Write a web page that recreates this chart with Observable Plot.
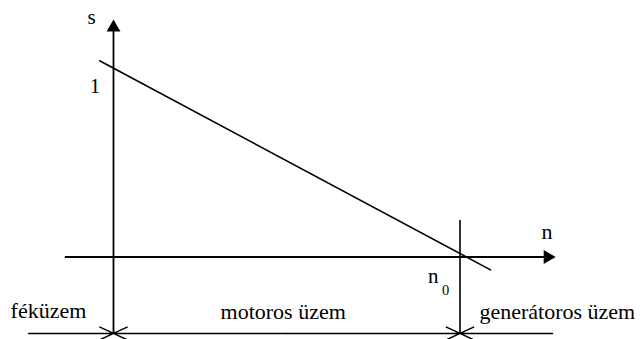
<!DOCTYPE html>
<html>
<head>
<meta charset="utf-8">
<script src="https://cdn.jsdelivr.net/npm/d3@7"></script>
<script src="https://cdn.jsdelivr.net/npm/@observablehq/plot@0.6"></script>
</head>
<body style="margin:0;background:#fff">
<div id="chart"></div>
<script>
// ---- data (n: speed, relative to n0; s: slip) ----
const slipN = [-0.04, 1.088];          // n values of the slip line endpoints
const slipS = [1.04, -0.068];          // s values of the slip line endpoints
const regionNames = ["féküzem", "motoros üzem", "generátoros üzem"];
const regionBounds = [-0.245, 0, 1, 1.267];   // dimension line: start, s-axis, n0, end
const axisNames = ["s", "n"];
const tickLabels = ["1", "n", "0"];    // "1" on s axis, n0 = "n" + subscript "0"

// ---- geometry of the diagram (in n / s units) ----
const sAxisRange = [-0.405, 1.216];
const nAxisRange = [-0.139, 1.253];
const dimS = -0.405;
const n0Top = 0.193;

const slipLine = slipN.map((n, i) => ({n, s: slipS[i]}));

const dimArrows = [
  {x1: regionBounds[0], x2: regionBounds[1]},
  {x1: (regionBounds[1] + regionBounds[2]) / 2, x2: regionBounds[1]},
  {x1: (regionBounds[1] + regionBounds[2]) / 2, x2: regionBounds[2]},
  {x1: regionBounds[3], x2: regionBounds[2]}
];

const regionText = [
  {n: -0.297, s: -0.321, t: regionNames[0]},
  {n: 0.309, s: -0.329, t: regionNames[1]},
  {n: 1.056, s: -0.331, t: regionNames[2]}
];

const font = "Times New Roman";

const chart = Plot.plot({
  width: 642,
  height: 339,
  margin: 0,
  style: {fontFamily: font, background: "#fff"},
  x: {domain: [-113 / 346.5, 529 / 346.5], axis: null},
  y: {domain: [-82.5 / 188.7, 256.5 / 188.7], axis: null},
  marks: [
    // s axis
    Plot.ruleX([0], {y1: sAxisRange[0], y2: sAxisRange[1], stroke: "#000", strokeWidth: 1.8}),
    Plot.dot([{n: 0, s: sAxisRange[1]}], {x: "n", y: "s", symbol: "triangle", r: 5.14, fill: "#000", stroke: "none"}),
    // n axis
    Plot.ruleY([0], {x1: nAxisRange[0], x2: nAxisRange[1], stroke: "#000", strokeWidth: 1.9}),
    Plot.dot([{n: nAxisRange[1], s: 0}], {x: "n", y: "s", symbol: "triangle", r: 5.14, rotate: 90, fill: "#000", stroke: "none"}),
    // n0 vertical
    Plot.ruleX([1], {y1: dimS, y2: n0Top, stroke: "#000", strokeWidth: 1.6}),
    // slip line
    Plot.line(slipLine, {x: "n", y: "s", stroke: "#000", strokeWidth: 1.6}),
    // dimension line
    Plot.arrow(dimArrows, {x1: "x1", x2: "x2", y1: dimS, y2: dimS, stroke: "#000", strokeWidth: 1.5, headAngle: 50, headLength: 15}),
    // labels
    Plot.text([axisNames[0]], {x: -0.075, y: 1.237, text: d => d, textAnchor: "start", lineAnchor: "bottom", fontSize: 21, fontFamily: font}),
    Plot.text([axisNames[1]], {x: 1.235, y: 0.098, text: d => d, textAnchor: "start", lineAnchor: "bottom", fontSize: 22, fontFamily: font}),
    Plot.text([tickLabels[0]], {x: -0.0534, y: 0.868, text: d => d, textAnchor: "middle", lineAnchor: "bottom", fontSize: 21, fontFamily: font}),
    Plot.text([tickLabels[1]], {x: 0.908, y: -0.139, text: d => d, textAnchor: "start", lineAnchor: "bottom", fontSize: 21, fontFamily: font}),
    Plot.text([tickLabels[2]], {x: 0.948, y: -0.199, text: d => d, textAnchor: "start", lineAnchor: "bottom", fontSize: 14.5, fontFamily: font}),
    Plot.text(regionText, {x: "n", y: "s", text: "t", textAnchor: "start", lineAnchor: "bottom", fontSize: 22, fontFamily: font})
  ]
});

document.getElementById("chart").appendChild(chart);
</script>
</body>
</html>
